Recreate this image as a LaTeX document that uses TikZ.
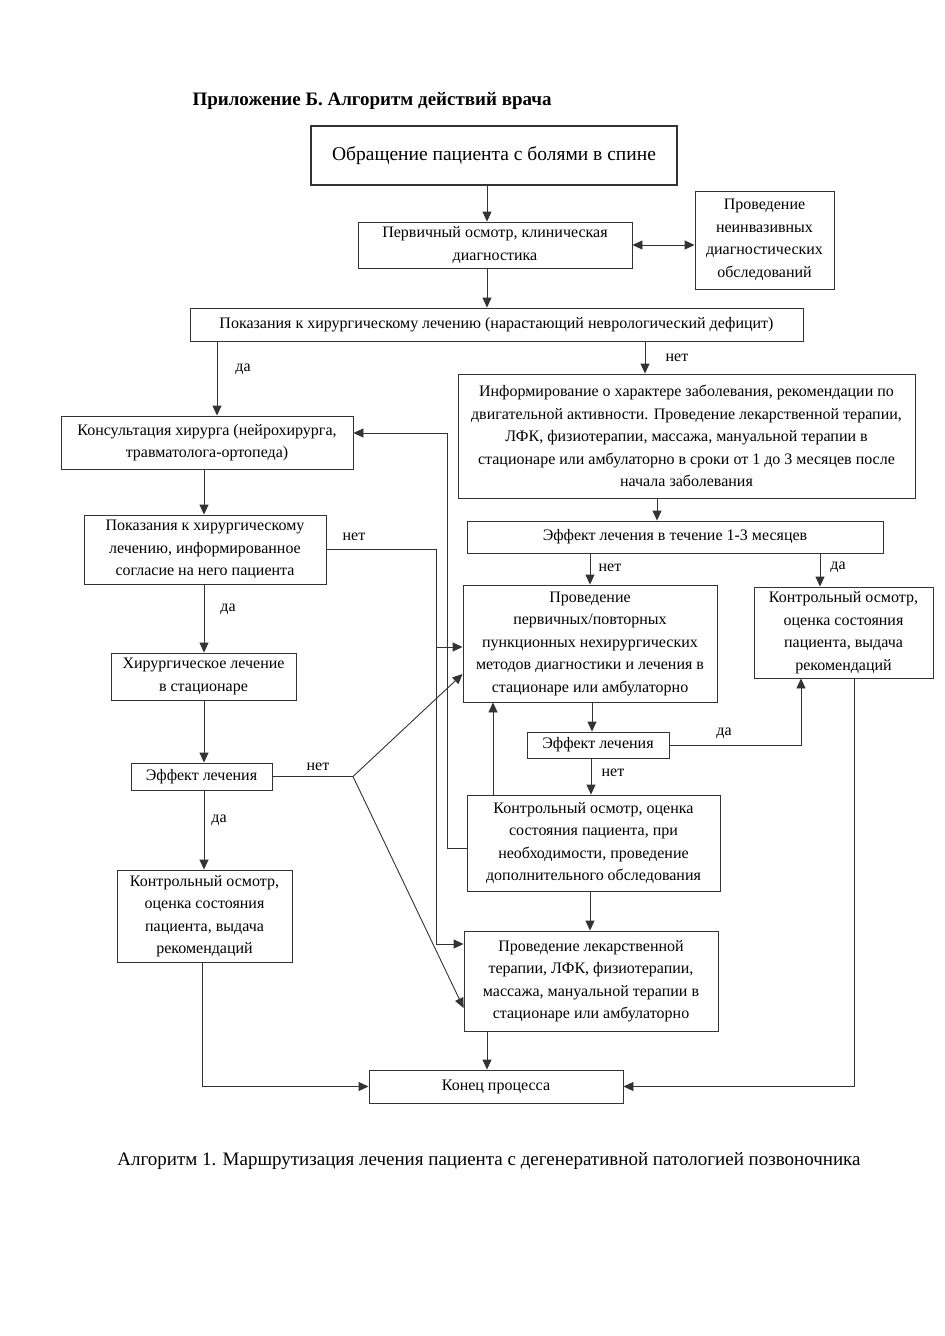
\documentclass[tikz,border=0pt]{standalone}
\usepackage{fontspec}
\setmainfont{Liberation Serif}
\usetikzlibrary{arrows.meta,calc}
\begin{document}
\begin{tikzpicture}[x=1pt,y=-1pt,
  box/.style={draw=black!80, line width=0.9pt, inner sep=0pt, align=center, font=\fontsize{16}{22.5}\selectfont, text=black},
  arr/.style={draw=black!80, line width=0.9pt, -{Triangle[length=10pt,width=9pt]}},
  dbl/.style={draw=black!80, line width=0.9pt, {Triangle[length=10pt,width=9pt]}-{Triangle[length=10pt,width=9pt]}},
  ln/.style={draw=black!80, line width=0.9pt},
  lbl/.style={font=\fontsize{16}{18}\selectfont, inner sep=0pt}]
\useasboundingbox[fill=white] (0,0) rectangle (945,1336);

% columns / rows
\coordinate (x487) at (487,0);
\coordinate (x217) at (217,0);
\coordinate (x645) at (645,0);
\coordinate (x204) at (204,0);
\coordinate (x202) at (202,0);
\coordinate (x436) at (436,0);
\coordinate (x447) at (447,0);
\coordinate (x657) at (657,0);
\coordinate (x590) at (590,0);
\coordinate (x820) at (820,0);
\coordinate (x592) at (592,0);
\coordinate (x801) at (801,0);
\coordinate (x591) at (591,0);
\coordinate (x493) at (493,0);
\coordinate (x854) at (854,0);
\coordinate (y647) at (0,647);
\coordinate (y944) at (0,944);
\coordinate (y433) at (0,433);
\coordinate (y848) at (0,848);
\coordinate (y674) at (0,674);
\coordinate (y1008) at (0,1008);

\node[anchor=west, font=\bfseries\fontsize{19}{22}\selectfont] (title) at (189,101) {Приложение Б. Алгоритм действий врача};

\node[box, line width=2pt, font=\fontsize{19.5}{23}\selectfont, minimum width=366, minimum height=59] (A) at (494,155.5) {Обращение пациента с болями в спине};
\node[box, minimum width=274, minimum height=46] (B) at (495,245) {Первичный осмотр, клиническая\\диагностика};
\node[box, minimum width=139, minimum height=98] (D) at (764.5,240) {Проведение\\неинвазивных\\диагностических\\обследований};
\node[box, minimum width=613, minimum height=33] (C) at (496.5,324.5) {Показания к хирургическому лечению (нарастающий неврологический дефицит)};
\node[box, minimum width=457, minimum height=124] (F) at (686.5,436) {Информирование о характере заболевания, рекомендации по\\двигательной активности. Проведение лекарственной терапии,\\ЛФК, физиотерапии, массажа, мануальной терапии в\\стационаре или амбулаторно в сроки от 1 до 3 месяцев после\\начала заболевания};
\node[box, minimum width=292, minimum height=53] (E) at (207,442.5) {Консультация хирурга (нейрохирурга,\\травматолога-ортопеда)};
\node[box, minimum width=242, minimum height=69] (G) at (205,549.5) {Показания к хирургическому\\лечению, информированное\\согласие на него пациента};
\node[box, minimum width=185, minimum height=47] (I) at (203.5,676.5) {Хирургическое лечение\\в стационаре};
\node[box, minimum width=141, minimum height=27] (J) at (201.5,776.5) {Эффект лечения};
\node[box, minimum width=175, minimum height=92] (Q) at (204.5,916) {Контрольный осмотр,\\оценка состояния\\пациента, выдача\\рекомендаций};
\node[box, minimum width=416, minimum height=32] (M) at (675,537) {Эффект лечения в течение 1-3 месяцев};
\node[box, minimum width=254, minimum height=117] (H) at (590,643.5) {Проведение\\первичных/повторных\\пункционных нехирургических\\методов диагностики и лечения в\\стационаре или амбулаторно};
\node[box, minimum width=179, minimum height=91] (N) at (843.5,632.5) {Контрольный осмотр,\\оценка состояния\\пациента, выдача\\рекомендаций};
\node[box, minimum width=142, minimum height=26] (O) at (598,745) {Эффект лечения};
\node[box, minimum width=253, minimum height=96] (K) at (593.5,843) {Контрольный осмотр, оценка\\состояния пациента, при\\необходимости, проведение\\дополнительного обследования};
\node[box, minimum width=254, minimum height=100] (L) at (591,981) {Проведение лекарственной\\терапии, ЛФК, физиотерапии,\\массажа, мануальной терапии в\\стационаре или амбулаторно};
\node[box, minimum width=254, minimum height=33] (P) at (496,1086.5) {Конец процесса};

\node[font=\fontsize{19}{22}\selectfont] (cap) at (489,1161) {Алгоритм 1. Маршрутизация лечения пациента с дегенеративной патологией позвоночника};

% connectors
\draw[arr] (A.south -| x487) -- (B.north -| x487);
\draw[dbl] (B.east) -- (D.west |- B.east);
\draw[arr] (B.south -| x487) -- (C.north -| x487);
\draw[arr] (C.south -| x217) -- (E.north -| x217);
\node[lbl] (l1) at (243,369) {да};
\draw[arr] (C.south -| x645) -- (F.north -| x645);
\node[lbl] (l2) at (677,358) {нет};
\draw[arr] (E.south -| x204) -- (G.north -| x204);
\coordinate (gj) at (x436 |- y647);
\draw[ln] (G.east) -- (G.east -| x436) -- (gj);
\draw[arr] (gj) -- (H.west |- y647);
\draw[arr] (gj) -- (x436 |- y944) -- (L.west |- y944);
\node[lbl] (l3) at (354,537) {нет};
\draw[arr] (G.south -| x204) -- (I.north -| x204);
\node[lbl] (l4) at (228,609) {да};
\draw[arr] (I.south -| x204) -- (J.north -| x204);
\coordinate (jn) at (353,776.5);
\draw[ln] (J.east) -- (jn);
\node[lbl] (l5) at (318,767) {нет};
\draw[arr] (jn) -- (H.west |- y674);
\draw[arr] (jn) -- (L.west |- y1008);
\draw[arr] (J.south -| x204) -- (Q.north -| x204);
\node[lbl] (l6) at (219,820) {да};
\draw[arr] (Q.south -| x202) -- (x202 |- P.west) -- (P.west);
\draw[arr] (K.west |- y848) -- (x447 |- y848) -- (x447 |- y433) -- (E.east |- y433);
\draw[arr] (F.south -| x657) -- (M.north -| x657);
\draw[arr] (M.south -| x590) -- (H.north -| x590);
\node[lbl] (l7) at (610,568) {нет};
\draw[arr] (M.south -| x820) -- (N.north -| x820);
\node[lbl] (l8) at (838,567) {да};
\draw[arr] (H.south -| x592) -- (O.north -| x592);
\draw[arr] (O.east) -- (O.east -| x801) -- (N.south -| x801);
\node[lbl] (l9) at (724,733) {да};
\draw[arr] (O.south -| x591) -- (K.north -| x591);
\node[lbl] (l10) at (613,773) {нет};
\draw[arr] (K.north -| x493) -- (H.south -| x493);
\draw[arr] (K.south -| x590) -- (L.north -| x590);
\draw[arr] (L.south -| x487) -- (P.north -| x487);
\draw[arr] (N.south -| x854) -- (x854 |- P.east) -- (P.east);
\end{tikzpicture}
\end{document}
